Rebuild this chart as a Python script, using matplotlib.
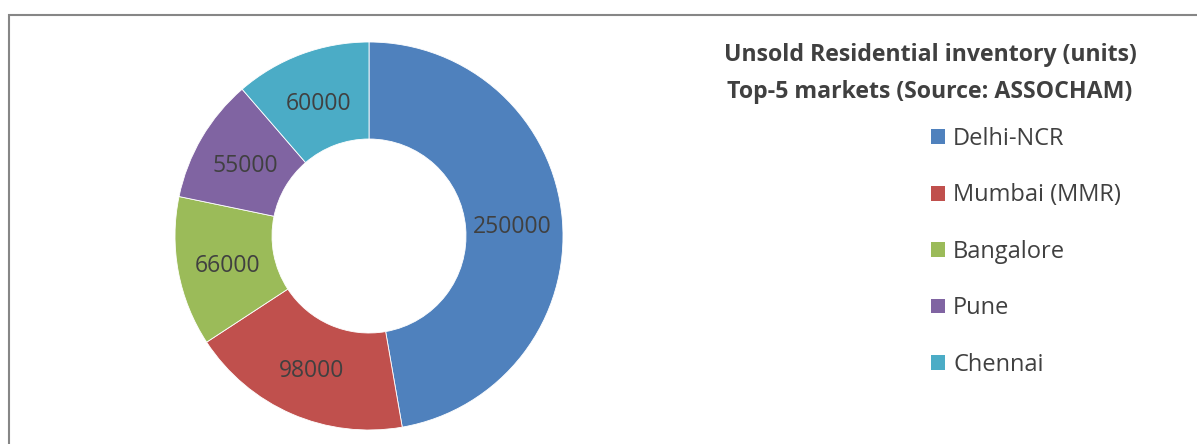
import matplotlib.pyplot as plt
from matplotlib.patches import Rectangle

# データ
markets = ['Delhi-NCR', 'Mumbai (MMR)', 'Bangalore', 'Pune', 'Chennai']
units = [250000, 98000, 66000, 55000, 60000]
colors = ['#4F81BD', '#C0504D', '#9BBB59', '#8064A2', '#4BACC6']
title = 'Unsold Residential inventory (units)\nTop-5 markets (Source: ASSOCHAM)'

plt.rcParams['font.family'] = ['Open Sans', 'DejaVu Sans']
text_color = '#404040'

W, H = 1197, 444
fig = plt.figure(figsize=(W / 100, H / 100), dpi=100)

# 外枠
fig.patches.append(Rectangle((8.5 / W, -0.1), 1.2, 1.1 - 15.5 / H, transform=fig.transFigure,
                             fill=False, edgecolor='#868686', linewidth=1.5))

# ドーナツ
cx, cy, r = 369, 236, 194
ax = fig.add_axes([(cx - r) / W, (H - cy - r) / H, 2 * r / W, 2 * r / H])
wedges, texts, autotexts = ax.pie(
    units, colors=colors, startangle=90, counterclock=False, radius=1,
    autopct=lambda p: '%d' % round(p * sum(units) / 100), pctdistance=0.74,
    wedgeprops=dict(width=0.5, edgecolor='white', linewidth=0.6),
    textprops=dict(color=text_color, fontsize=16.5))
for t in autotexts:
    t.set_va('center_baseline')
ax.set_xlim(-1, 1)
ax.set_ylim(-1, 1)
ax.axis('off')

# タイトル
fig.text(930 / W, 1 - 43 / H, title, ha='center', va='top', fontsize=16.7,
         fontweight='bold', color=text_color, linespacing=1.7)

# 凡例
leg = fig.legend(wedges, markets, loc='upper left', bbox_to_anchor=(931 / W, 1 - 127 / H),
                 frameon=False, fontsize=17, handlelength=0.59, handleheight=0.59,
                 handletextpad=0.35, labelspacing=1.375, borderpad=0, borderaxespad=0)
for t in leg.get_texts():
    t.set_color(text_color)
for h in leg.legend_handles:
    h.set_edgecolor('none')

fig.savefig('out.png', dpi=100)
